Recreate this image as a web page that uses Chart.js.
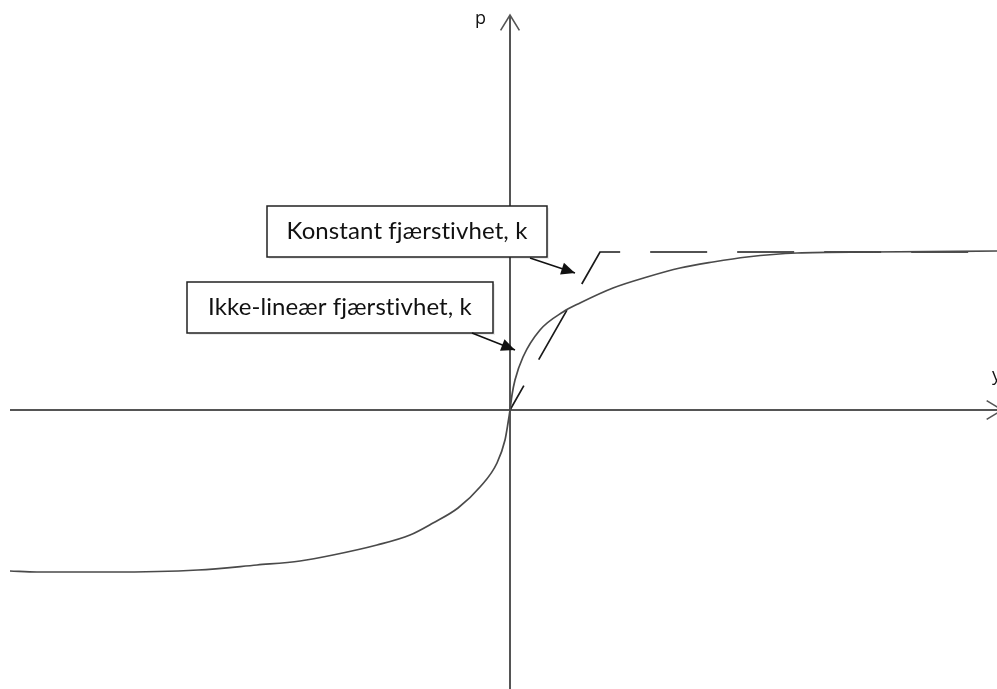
<!DOCTYPE html>
<html>
<head>
<meta charset="utf-8">
<script src="https://cdn.jsdelivr.net/npm/chart.js@4/dist/chart.umd.min.js"></script>
<style>
  html, body { margin: 0; padding: 0; background: #fff; }
  #wrap { width: 997px; height: 689px; position: relative; }
</style>
</head>
<body>
<div id="wrap"><canvas id="fjaer"></canvas></div>
<script>
// ikke-lineær fjærstivhet (heltrukken kurve)
var curveX = [-5.0, -4.73, -4.0, -3.12, -2.53, -2.10, -1.77, -1.33, -1.00, -0.77, -0.52, -0.30, -0.13, -0.05, -0.02, 0,
              0.02, 0.05, 0.13, 0.30, 0.53, 0.70, 1.03, 1.37, 1.70, 2.03, 2.37, 2.87, 3.60, 4.87];
var curveP = [-1.61, -1.62, -1.62, -1.60, -1.55, -1.51, -1.45, -1.35, -1.25, -1.13, -0.98, -0.77, -0.53, -0.30, -0.13, 0,
              0.15, 0.30, 0.53, 0.80, 0.98, 1.07, 1.22, 1.33, 1.42, 1.48, 1.53, 1.57, 1.58, 1.59];

// konstant fjærstivhet (stiplet linje)
var constX = [0, 0.90, 4.87];
var constP = [0, 1.58, 1.58];

var axisLabels = { x: 'y', y: 'p' };
var notes = [
  { text: 'Konstant fjærstivhet, k', box: [-2.43, 2.04, 0.37, 1.53], arrow: [0.20, 1.52, 0.65, 1.37] },
  { text: 'Ikke-lineær fjærstivhet, k', box: [-3.23, 1.28, -0.17, 0.77], arrow: [-0.38, 0.77, 0.05, 0.60] }
];

function pts(xs, ys) {
  return xs.map(function (x, i) { return { x: x, y: ys[i] }; });
}

function arrowHead(ctx, x1, y1, x2, y2, len, filled) {
  var a = Math.atan2(y2 - y1, x2 - x1);
  var w = filled ? 0.42 : 0.55;
  ctx.beginPath();
  ctx.moveTo(x2 - len * Math.cos(a - w), y2 - len * Math.sin(a - w));
  ctx.lineTo(x2, y2);
  ctx.lineTo(x2 - len * Math.cos(a + w), y2 - len * Math.sin(a + w));
  if (filled) { ctx.closePath(); ctx.fill(); } else { ctx.stroke(); }
}

var sketchPlugin = {
  id: 'sketch',
  beforeDatasetsDraw: function (chart) {
    var ctx = chart.ctx, xs = chart.scales.x, ys = chart.scales.y;
    var x0 = xs.getPixelForValue(0), y0 = ys.getPixelForValue(0);
    ctx.save();
    ctx.strokeStyle = '#555';
    ctx.lineWidth = 2;
    // koordinatakser
    var top = ys.getPixelForValue(3.95);
    ctx.beginPath();
    ctx.moveTo(x0, chart.height);
    ctx.lineTo(x0, top);
    ctx.moveTo(xs.getPixelForValue(-5.0), y0);
    ctx.lineTo(xs.getPixelForValue(4.90), y0);
    ctx.stroke();
    ctx.lineWidth = 1.6;
    arrowHead(ctx, x0, top + 50, x0, top, 18, false);
    arrowHead(ctx, xs.getPixelForValue(4.5), y0, xs.getPixelForValue(4.92), y0, 18, false);
    ctx.fillStyle = '#111';
    ctx.font = '18px "Open Sans", sans-serif';
    ctx.textBaseline = 'alphabetic';
    ctx.fillText(axisLabels.y, x0 - 35, 24);
    ctx.fillText(axisLabels.x, xs.getPixelForValue(4.82), y0 - 29);
    ctx.restore();
  },
  afterDatasetsDraw: function (chart) {
    var ctx = chart.ctx, xs = chart.scales.x, ys = chart.scales.y;
    ctx.save();
    notes.forEach(function (n) {
      var l = xs.getPixelForValue(n.box[0]), t = ys.getPixelForValue(n.box[1]);
      var r = xs.getPixelForValue(n.box[2]), b = ys.getPixelForValue(n.box[3]);
      ctx.fillStyle = 'rgba(0,0,0,0.08)';
      ctx.fillRect(l + 2, t + 2, r - l, b - t);
      ctx.fillStyle = '#fff';
      ctx.fillRect(l, t, r - l, b - t);
      ctx.strokeStyle = '#222';
      ctx.lineWidth = 1.5;
      ctx.strokeRect(l, t, r - l, b - t);
      ctx.fillStyle = '#111';
      ctx.font = '24px Lato, "Open Sans", sans-serif';
      if ('letterSpacing' in ctx) ctx.letterSpacing = '0.1px';
      ctx.textAlign = 'center';
      ctx.textBaseline = 'middle';
      ctx.fillText(n.text, (l + r) / 2, (t + b) / 2);
      if ('letterSpacing' in ctx) ctx.letterSpacing = '0px';
      var ax1 = xs.getPixelForValue(n.arrow[0]), ay1 = ys.getPixelForValue(n.arrow[1]);
      var ax2 = xs.getPixelForValue(n.arrow[2]), ay2 = ys.getPixelForValue(n.arrow[3]);
      ctx.strokeStyle = '#111';
      ctx.lineWidth = 1.6;
      ctx.beginPath();
      ctx.moveTo(ax1, ay1);
      ctx.lineTo(ax2, ay2);
      ctx.stroke();
      ctx.fillStyle = '#111';
      arrowHead(ctx, ax1, ay1, ax2, ay2, 15, true);
    });
    ctx.restore();
  }
};

var ctx = document.getElementById('fjaer');
var chart = new Chart(ctx, {
  type: 'line',
  data: {
    datasets: [
      {
        label: 'Ikke-lineær fjærstivhet, k',
        data: pts(curveX, curveP),
        borderColor: '#4a4a4a',
        borderWidth: 1.7,
        pointRadius: 0,
        fill: false,
        cubicInterpolationMode: 'monotone'
      },
      {
        label: 'Konstant fjærstivhet, k',
        data: pts(constX, constP),
        borderColor: '#1a1a1a',
        borderWidth: 1.7,
        borderDash: [57, 30],
        borderDashOffset: 29,
        pointRadius: 0,
        fill: false,
        tension: 0
      }
    ]
  },
  options: {
    responsive: true,
    maintainAspectRatio: false,
    animation: false,
    layout: { padding: 0 },
    plugins: { legend: { display: false }, tooltip: { enabled: false } },
    scales: {
      x: { type: 'linear', min: -5.10, max: 4.87, display: false },
      y: { type: 'linear', min: -2.79, max: 4.10, display: false }
    }
  },
  plugins: [sketchPlugin]
});
</script>
</body>
</html>
